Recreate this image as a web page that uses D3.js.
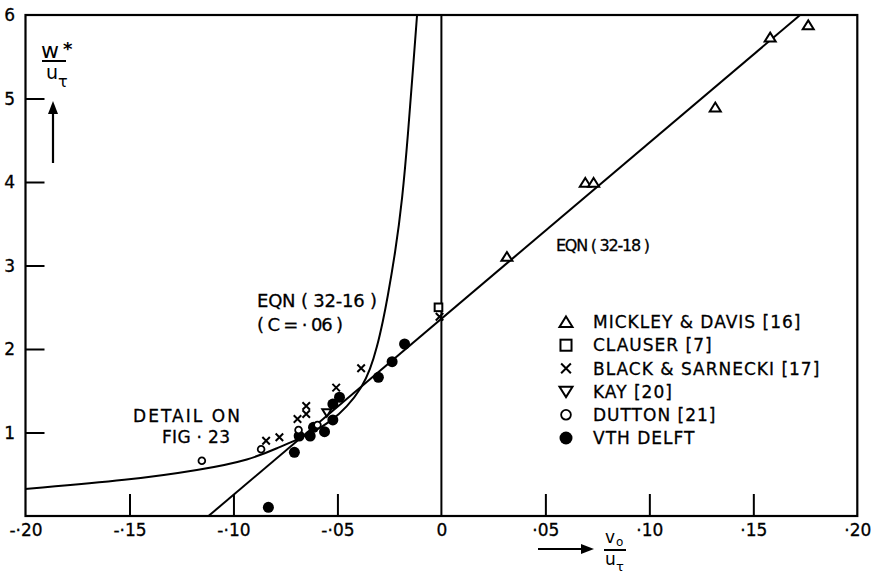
<!DOCTYPE html>
<html><head><meta charset="utf-8">
<script src="https://cdn.jsdelivr.net/npm/d3@7"></script>
<style>
body{margin:0;background:#fff}
svg{display:block}
text{font-family:"DejaVu Sans",sans-serif;fill:#000}
</style>
</head><body>
<svg id="chart" width="879" height="573"></svg>
<script>
// ---------- data ----------
const xTicks = [-0.20, -0.15, -0.10, -0.05, 0, 0.05, 0.10, 0.15, 0.20];
const xTickLabels = ["-·20", "-·15", "-·10", "-·05", "0", "·05", "·10", "·15", "·20"];
const yTicks = [1, 2, 3, 4, 5];
const yTickLabels = ["1", "2", "3", "4", "5", "6"];
const yLabelValues = [1, 2, 3, 4, 5, 6];

const mickleyX = [0.1764, 0.1581, 0.1317, 0.0692, 0.0732, 0.0315];
const mickleyY = [5.88, 5.733, 4.895, 3.992, 3.992, 3.105];
const clauserX = [-0.0014];
const clauserY = [2.499];
const blackX = [-0.0009, -0.0386, -0.0506, -0.0650, -0.0650, -0.0692, -0.0779, -0.0843];
const blackY = [2.387, 1.769, 1.537, 1.317, 1.222, 1.162, 0.943, 0.902];
const kayX = [-0.0551];
const kayY = [1.237];
const duttonX = [-0.1152, -0.0867, -0.0687, -0.0596];
const duttonY = [0.662, 0.799, 1.030, 1.090];
const delftX = [-0.0177, -0.0237, -0.0303, -0.0490, -0.0522, -0.0522, -0.0562, -0.0615, -0.0631, -0.0684, -0.0707, -0.0832];
const delftY = [2.060, 1.848, 1.661, 1.422, 1.341, 1.150, 1.010, 1.062, 0.958, 0.958, 0.763, 0.104];

// EQN (32-16), C = .06 (curve)
const curve16X = [-0.2002, -0.1497, -0.1160, -0.0920, -0.0775, -0.0703, -0.0617, -0.0535, -0.0453, -0.0381, -0.0343, -0.0309, -0.0280, -0.0261, -0.0222, -0.0188, -0.0160, -0.0136, -0.0117];
const curve16Y = [0.323, 0.431, 0.551, 0.671, 0.830, 0.905, 1.006, 1.126, 1.305, 1.545, 1.749, 2.024, 2.347, 2.587, 3.150, 3.784, 4.587, 5.377, 6.0];
// EQN (32-18) straight line
const line18X = [-0.112, 0.1725];
const line18Y = [0, 6];

const legendLabels = ["MICKLEY & DAVIS [16]", "CLAUSER [7]", "BLACK & SARNECKI [17]", "KAY [20]", "DUTTON [21]", "VTH DELFT"];
const legendShapes = ["triUp", "square", "cross", "triDown", "circle", "dot"];

// ---------- layout ----------
const svg = d3.select("#chart");
const x = d3.scaleLinear().domain([-0.2, 0.2]).range([25.5, 857.3]);
const y = d3.scaleLinear().domain([0, 6]).range([516, 15]);
const X0 = x.range()[0], X1 = x.range()[1], Y0 = y.range()[0], Y1 = y.range()[1];

svg.append("defs").append("clipPath").attr("id", "plot")
  .append("rect").attr("x", X0).attr("y", Y1).attr("width", X1 - X0).attr("height", Y0 - Y1);

// frame
svg.append("rect").attr("x", X0).attr("y", Y1).attr("width", X1 - X0).attr("height", Y0 - Y1)
  .attr("fill", "none").attr("stroke", "#000").attr("stroke-width", 2.2);

// x axis ticks (inward) and labels
const xAxis = d3.axisBottom(x).tickValues(xTicks).tickSize(-22).tickFormat((d, i) => xTickLabels[i]);
const gx = svg.append("g").attr("transform", `translate(0,${Y0})`).call(xAxis);
gx.select(".domain").remove();
gx.selectAll(".tick line").attr("stroke", "#000").attr("stroke-width", 2)
  .filter(d => d === 0 || d === -0.2 || d === 0.2).remove();
gx.selectAll(".tick text").attr("font-size", 17).attr("y", 20).attr("dy", 0)
  .attr("font-family", "DejaVu Sans").attr("stroke", "#000").attr("stroke-width", 0.3);

// y axis ticks (inward) and labels
const yAxis = d3.axisLeft(y).tickValues(yTicks).tickSize(-19).tickFormat("");
const gy = svg.append("g").attr("transform", `translate(${X0},0)`).call(yAxis);
gy.select(".domain").remove();
gy.selectAll(".tick line").attr("stroke", "#000").attr("stroke-width", 2);
svg.append("g").selectAll("text").data(yLabelValues).join("text")
  .attr("x", 15).attr("y", d => y(d)).attr("dy", "0.36em")
  .attr("text-anchor", "end").attr("font-size", 17)
  .attr("stroke", "#000").attr("stroke-width", 0.3)
  .text((d, i) => yTickLabels[i]);

// vertical line at x = 0
svg.append("line").attr("x1", x(0)).attr("x2", x(0)).attr("y1", Y1).attr("y2", Y0)
  .attr("stroke", "#000").attr("stroke-width", 2);

// curves
const plot = svg.append("g").attr("clip-path", "url(#plot)");
plot.append("path").datum(curve16X.map((v, i) => [v, curve16Y[i]]))
  .attr("d", d3.line().x(d => x(d[0])).y(d => y(d[1])).curve(d3.curveBasis))
  .attr("fill", "none").attr("stroke", "#000").attr("stroke-width", 2);
plot.append("path").datum(line18X.map((v, i) => [v, line18Y[i]]))
  .attr("d", d3.line().x(d => x(d[0])).y(d => y(d[1])))
  .attr("fill", "none").attr("stroke", "#000").attr("stroke-width", 2);

// marker drawing
function marker(g, shape, s) {
  const h = s / 2;
  if (shape === "triUp") {
    g.append("path").attr("d", `M0,${-h*0.85}L${h},${h*0.75}L${-h},${h*0.75}Z`)
      .attr("fill", "#fff").attr("stroke", "#000").attr("stroke-width", 2);
  } else if (shape === "triDown") {
    g.append("path").attr("d", `M0,${h*0.85}L${h},${-h*0.75}L${-h},${-h*0.75}Z`)
      .attr("fill", "#fff").attr("stroke", "#000").attr("stroke-width", 2);
  } else if (shape === "square") {
    g.append("rect").attr("x", -h*0.85).attr("y", -h*0.85).attr("width", h*1.7).attr("height", h*1.7)
      .attr("fill", "#fff").attr("stroke", "#000").attr("stroke-width", 2);
  } else if (shape === "cross") {
    const c = h * 0.75;
    g.append("path").attr("d", `M${-c},${-c}L${c},${c}M${-c},${c}L${c},${-c}`)
      .attr("stroke", "#000").attr("stroke-width", 2);
  } else if (shape === "circle") {
    g.append("circle").attr("r", h*0.75).attr("fill", "#fff").attr("stroke", "#000").attr("stroke-width", 1.8);
  } else if (shape === "dot") {
    g.append("circle").attr("r", h).attr("fill", "#000");
  }
}
function series(xs, ys, shape, s) {
  xs.forEach((v, i) => {
    const g = svg.append("g").attr("transform", `translate(${x(v)},${y(ys[i])})`);
    marker(g, shape, s);
  });
}
series(delftX, delftY, "dot", 11);
series(duttonX, duttonY, "circle", 9);
series(blackX, blackY, "cross", 10);
series(kayX, kayY, "triDown", 9);
series(clauserX, clauserY, "square", 9);
series(mickleyX, mickleyY, "triUp", 11);

// legend
const lg = svg.append("g");
legendLabels.forEach((lab, i) => {
  const yy = 322 + i * 23.2;
  const g = lg.append("g").attr("transform", `translate(566,${yy})`);
  marker(g, legendShapes[i], 13);
  lg.append("text").attr("x", 593).attr("y", yy).attr("dy", "0.36em")
    .attr("font-size", 17).attr("letter-spacing", 1)
    .attr("stroke", "#000").attr("stroke-width", 0.3).text(lab);
});

// annotations
function label(txt, xx, yy, fs, len) {
  const t = svg.append("text").attr("x", xx).attr("y", yy).attr("font-size", fs)
    .attr("stroke", "#000").attr("stroke-width", 0.3).text(txt);
  if (len) t.attr("textLength", len).attr("lengthAdjust", "spacing");
  return t;
}
label("EQN ( 32-16 )", 257, 307, 18, 120);
label("( C = · 06 )", 257, 331, 18, 86);
label("EQN ( 32-18 )", 556, 251, 16, 94);
label("DETAIL ON", 133, 422, 17, 107);
label("FIG · 23", 162, 443, 17, 68);

// y-axis title  w*/u_tau with arrow
svg.append("text").attr("x", 41).attr("y", 58).attr("font-size", 22).text("w");
svg.append("text").attr("x", 63).attr("y", 55).attr("font-size", 18).attr("font-weight", "bold").text("*");
svg.append("line").attr("x1", 42).attr("x2", 66).attr("y1", 61).attr("y2", 61).attr("stroke", "#000").attr("stroke-width", 2);
svg.append("text").attr("x", 46).attr("y", 79).attr("font-size", 19).text("u");
svg.append("text").attr("x", 58).attr("y", 87).attr("font-size", 16).text("τ");
svg.append("line").attr("x1", 53).attr("x2", 53).attr("y1", 163).attr("y2", 110).attr("stroke", "#000").attr("stroke-width", 2.2);
svg.append("path").attr("d", "M53,101L48,114L58,114Z").attr("fill", "#000");

// x-axis title  v0/u_tau with arrow
svg.append("line").attr("x1", 538).attr("x2", 584).attr("y1", 549).attr("y2", 549).attr("stroke", "#000").attr("stroke-width", 2.2);
svg.append("path").attr("d", "M594,549L581,544L581,554Z").attr("fill", "#000");
svg.append("text").attr("x", 605).attr("y", 543).attr("font-size", 17).text("v");
svg.append("text").attr("x", 616).attr("y", 546).attr("font-size", 12).text("o");
svg.append("line").attr("x1", 604).attr("x2", 626).attr("y1", 550).attr("y2", 550).attr("stroke", "#000").attr("stroke-width", 2);
svg.append("text").attr("x", 605).attr("y", 565).attr("font-size", 17).text("u");
svg.append("text").attr("x", 616).attr("y", 571).attr("font-size", 13).text("τ");
</script>
</body></html>
